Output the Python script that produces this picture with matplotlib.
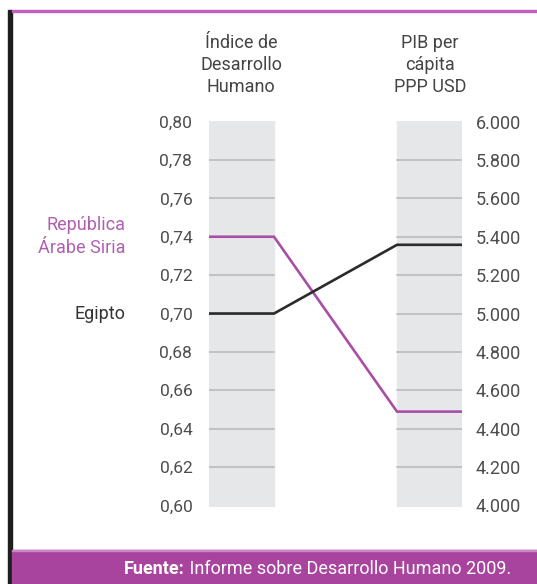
import matplotlib
matplotlib.use("Agg")
import matplotlib.pyplot as plt
from matplotlib.patches import Rectangle
from matplotlib.ticker import FuncFormatter

plt.rcParams['font.family'] = ['Roboto', 'DejaVu Sans']

# data
countries = ["República\nÁrabe Siria", "Egipto"]
hdi = [0.74, 0.70]
gdp = [4489, 5358]
colors = ["#a94ea8", "#2b2b2b"]
label_colors = ["#b060b0", "#333333"]
hdi_ticks = [0.60, 0.62, 0.64, 0.66, 0.68, 0.70, 0.72, 0.74, 0.76, 0.78, 0.80]
gdp_ticks = [4000, 4200, 4400, 4600, 4800, 5000, 5200, 5400, 5600, 5800, 6000]

W, H = 537, 584
fig = plt.figure(figsize=(W / 100, H / 100), dpi=100)

def px(x, y, w, h):
    # pixel box (top-left origin) -> figure fraction
    return [x / W, 1 - (y + h) / H, w / W, h / H]

# frame decoration
fig.patches.append(Rectangle((8 / W, 0), 4 / W, 1 - 10 / H, transform=fig.transFigure,
                             color="#1e1e1e", zorder=5))
fig.patches.append(Rectangle((12 / W, 1 - 12 / H), 1, 2 / H, transform=fig.transFigure,
                             color="#c060c0", zorder=5))
fig.patches.append(Rectangle((12 / W, 0), 1, 34 / H, transform=fig.transFigure,
                             color="#a8449e", zorder=5))
fig.patches.append(Rectangle((12 / W, 33 / H), 1, 1.5 / H, transform=fig.transFigure,
                             color="#c987c3", zorder=5))

# main axes: left column 0..65, right column 188..253 (pixel-like units)
y_lo, y_hi = 0.5992, 0.8003
ax = fig.add_axes(px(209, 121, 253, 386))
ax.set_xlim(0, 253)
ax.set_ylim(y_lo, y_hi)
for s in ax.spines.values():
    s.set_visible(False)
ax.set_xticks([])

col_l = (0, 65)
col_r = (188, 253)
for c in (col_l, col_r):
    ax.axvspan(c[0], c[1], color="#e6e7e8", zorder=0)
    for t in hdi_ticks[1:-1]:
        ax.plot(c, [t, t], color="#b9bcbd", lw=1.2, zorder=1)

def gdp_to_hdi(v):
    return 0.60 + (v - 4000) / 2000 * 0.20

for i in range(len(countries)):
    yl = hdi[i]
    yr = gdp_to_hdi(gdp[i])
    ax.plot([col_l[0], col_l[1], col_r[0], col_r[1]], [yl, yl, yr, yr],
            color=colors[i], lw=1.9, zorder=3, solid_joinstyle="miter")
    ax.text(-84, yl, countries[i], ha="right", va="center", fontsize=13,
            color=label_colors[i], linespacing=1.35)

ax.set_yticks(hdi_ticks)
ax.yaxis.set_major_formatter(FuncFormatter(lambda v, p: f"{v:.2f}".replace(".", ",")))
ax.tick_params(axis="y", length=0, pad=12, labelsize=12.5, labelcolor="#4d4d4d")

ax2 = ax.twinx()
ax2.set_ylim(4000 + (y_lo - 0.60) / 0.20 * 2000, 4000 + (y_hi - 0.60) / 0.20 * 2000)
for s in ax2.spines.values():
    s.set_visible(False)
ax2.set_yticks(gdp_ticks)
ax2.yaxis.set_major_formatter(FuncFormatter(lambda v, p: f"{int(v):,}".replace(",", ".")))
ax2.tick_params(axis="y", length=0, pad=10, labelsize=13, labelcolor="#4d4d4d")

# column headers
fig.text(241 / W, 1 - 65 / H, "Índice de\nDesarrollo\nHumano", ha="center", va="center",
         fontsize=13, color="#444444", linespacing=1.3)
fig.text(430 / W, 1 - 65 / H, "PIB per\ncápita\nPPP USD", ha="center", va="center",
         fontsize=13, color="#444444", linespacing=1.3)

# source footer: bold label + normal text, right aligned
t2 = fig.text(511 / W, 1 - 569 / H, " Informe sobre Desarrollo Humano 2009.", ha="right",
              va="center", fontsize=13, color="white", zorder=6)
fig.canvas.draw()
bb = t2.get_window_extent()
fig.text(bb.x0 / W, 1 - 569 / H, "Fuente:", ha="right", va="center", fontsize=13,
         color="white", fontweight="bold", zorder=6)

fig.savefig("out.png", dpi=100)
